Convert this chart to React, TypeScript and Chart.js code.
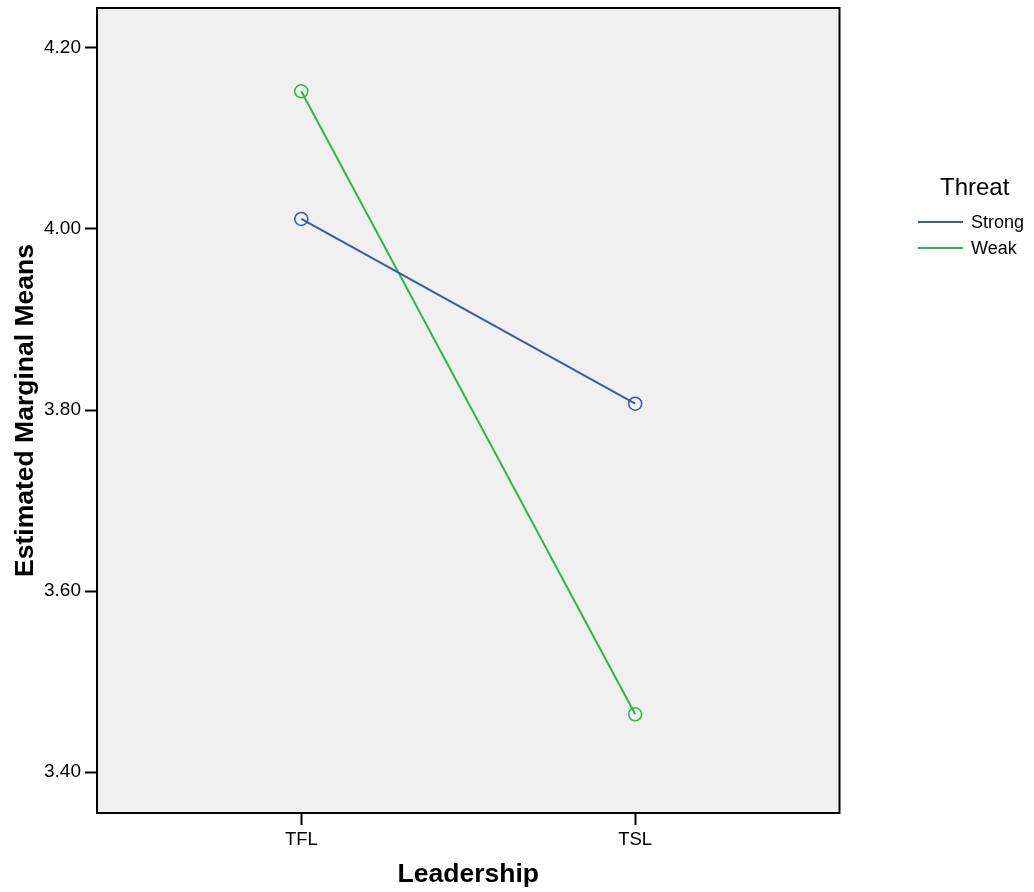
import React, { useEffect, useRef } from "react";
import { Chart, registerables } from "chart.js";

Chart.register(...registerables);

const categories = ["TFL", "TSL"];
const seriesNames = ["Strong", "Weak"];
const strongValues = [4.011, 3.807];
const weakValues = [4.152, 3.464];
const yTickValues = [3.4, 3.6, 3.8, 4.0, 4.2];
const legendTitle = "Threat";
const xTitle = "Leadership";
const yTitle = "Estimated Marginal Means";

const BLUE = "#3e58ac";
const GREEN = "#2eb848";
const FONT = "'Liberation Sans', Arial, sans-serif";

const plotBackground = {
  id: "plotBackground",
  beforeDraw(chart: any) {
    const { ctx, chartArea } = chart;
    ctx.save();
    ctx.fillStyle = "#f0f0f0";
    ctx.fillRect(chartArea.left, chartArea.top, chartArea.right - chartArea.left, chartArea.bottom - chartArea.top);
    ctx.restore();
  },
  afterDraw(chart: any) {
    const { ctx, chartArea } = chart;
    ctx.save();
    ctx.strokeStyle = "#000";
    ctx.lineWidth = 2;
    ctx.strokeRect(chartArea.left, chartArea.top, chartArea.right - chartArea.left, chartArea.bottom - chartArea.top);
    ctx.restore();
  },
};

const sideLegend = {
  id: "sideLegend",
  afterDraw(chart: any) {
    const { ctx } = chart;
    ctx.save();
    ctx.fillStyle = "#000";
    ctx.textBaseline = "alphabetic";
    ctx.textAlign = "left";
    ctx.font = `24px ${FONT}`;
    ctx.fillText(legendTitle, 940, 195);
    chart.data.datasets.forEach((ds: any, i: number) => {
      const y = 222 + i * 26;
      ctx.strokeStyle = ds.borderColor;
      ctx.lineWidth = 2;
      ctx.beginPath();
      ctx.moveTo(918, y);
      ctx.lineTo(963, y);
      ctx.stroke();
      ctx.fillStyle = "#000";
      ctx.font = `18px ${FONT}`;
      ctx.textBaseline = "middle";
      ctx.fillText(ds.label, 971, y + 1);
    });
    ctx.restore();
  },
};

export default function App() {
  const ref = useRef<HTMLCanvasElement | null>(null);
  useEffect(() => {
    if (!ref.current) return;
    const mk = (vals: number[]) => vals.map((v, i) => ({ x: i, y: v }));
    const chart = new Chart(ref.current, {
      type: "line",
      data: {
        datasets: [
          {
            label: seriesNames[0],
            data: mk(strongValues),
            borderColor: BLUE,
            borderWidth: 2,
            pointRadius: 6.5,
            pointBorderWidth: 1.5,
            pointBorderColor: BLUE,
            pointBackgroundColor: "rgba(0,0,0,0)",
          },
          {
            label: seriesNames[1],
            data: mk(weakValues),
            borderColor: GREEN,
            borderWidth: 2,
            pointRadius: 6.5,
            pointBorderWidth: 1.5,
            pointBorderColor: GREEN,
            pointBackgroundColor: "rgba(0,0,0,0)",
          },
        ],
      },
      options: {
        animation: false,
        responsive: false,
        maintainAspectRatio: false,
        layout: { padding: { left: 0, top: 7.5, right: 194.5, bottom: 0 } },
        plugins: { legend: { display: false }, tooltip: { enabled: false } },
        scales: {
          x: {
            type: "linear",
            min: -0.612,
            max: 1.612,
            afterBuildTicks: (s: any) => {
              s.ticks = categories.map((_, i) => ({ value: i }));
            },
            afterFit: (s: any) => {
              s.height = 79;
              s.paddingLeft = 0;
              s.paddingRight = 0;
            },
            ticks: {
              color: "#000",
              font: { family: FONT, size: 18.5 },
              padding: 4,
              maxRotation: 0,
              autoSkip: false,
              callback: (v: any) => categories[v] ?? "",
            },
            grid: { display: true, drawOnChartArea: false, drawTicks: true, tickLength: 12, tickWidth: 2, tickColor: "#000" },
            border: { display: false },
            title: {
              display: true,
              text: xTitle,
              color: "#000",
              font: { family: FONT, size: 26.5, weight: "bold", lineHeight: 1.2 },
              padding: { top: 0, bottom: 1 },
            },
          },
          y: {
            type: "linear",
            min: 3.355,
            max: 4.244,
            afterBuildTicks: (s: any) => {
              s.ticks = yTickValues.map((v) => ({ value: v }));
            },
            afterFit: (s: any) => {
              s.width = 97;
              s.paddingTop = 0;
              s.paddingBottom = 0;
            },
            ticks: {
              color: "#000",
              font: { family: FONT, size: 19 },
              padding: 4,
              callback: (v: any) => Number(v).toFixed(2),
            },
            grid: { display: true, drawOnChartArea: false, drawTicks: true, tickLength: 12, tickWidth: 2, tickColor: "#000" },
            border: { display: false },
            title: {
              display: true,
              text: yTitle,
              color: "#000",
              font: { family: FONT, size: 26.5, weight: "bold", lineHeight: 1.2 },
              padding: { top: 9.5, bottom: 0 },
            },
          },
        },
      },
      plugins: [plotBackground, sideLegend],
    });
    return () => chart.destroy();
  }, []);
  return (
    <div style={{ position: "absolute", left: 0, top: 0, width: 1034, height: 892, background: "#fff" }}>
      <canvas ref={ref} width={1034} height={892} style={{ width: 1034, height: 892 }} />
    </div>
  );
}
